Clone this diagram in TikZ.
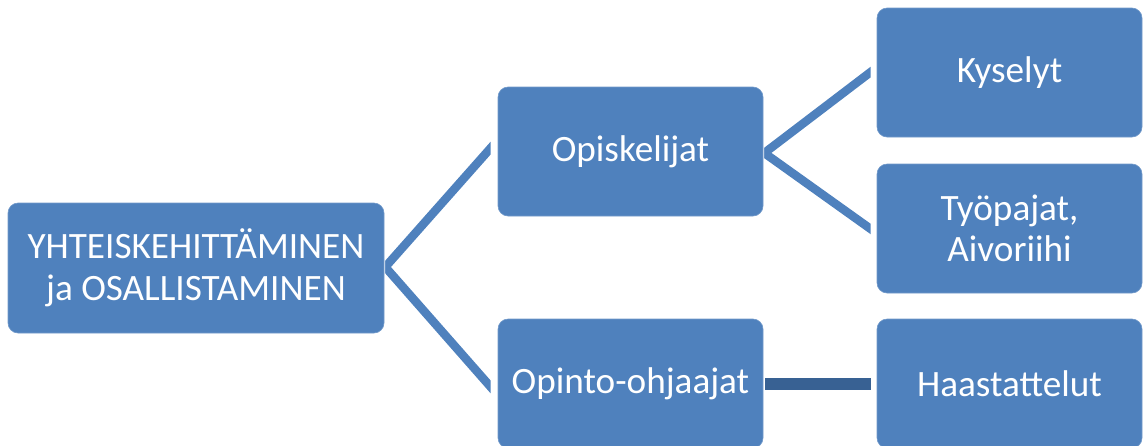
\documentclass[tikz,border=0pt]{standalone}
\usepackage{fontspec}
\setmainfont{Carlito}
\definecolor{boxblue}{HTML}{4F81BD}
\definecolor{bardark}{HTML}{386193}
\begin{document}
\begin{tikzpicture}[x=1pt,y=-1pt,
  box/.style={rectangle, rounded corners=10pt, fill=boxblue, draw=boxblue!80!white, line width=0.6pt,
    text=white, align=center, inner sep=0pt,
    minimum width=265pt, minimum height=129pt,
    font=\fontsize{37.2}{41.5}\selectfont},
  conn/.style={draw=boxblue, line width=8.5pt, line cap=butt},
  bar/.style={draw=bardark, line width=12pt, line cap=butt}]
\useasboundingbox (0,0) rectangle (1146,445);
\node[box, minimum width=376pt, minimum height=130pt] (root) at (196,268) {YHTEISKEHITTÄMINEN\\ja OSALLISTAMINEN};
\node[box] (opis) at (630.5,151.5) {Opiskelijat};
\node[box] (opin) at (630.5,383.5) {Opinto-ohjaajat};
\node[box] (kys) at (1009.5,72.5) {Kyselyt};
\node[box] (tyo) at (1009.5,228.5) {Työpajat,\\Aivoriihi};
\node[box] (haa) at (1009.5,383.5) {Haastattelut};
% connectors from root
\coordinate (j1) at ([xshift=1pt,yshift=1pt]root.east);
\coordinate (e1) at ([xshift=-7pt,yshift=3.5pt]opis.west);
\coordinate (e2) at ([xshift=-7pt,yshift=-3.5pt]opin.west);
\begin{scope}
  \clip (j1 |- 0,0) rectangle (e1 |- 0,445);
  \draw[conn, shorten <=-8pt, shorten >=-8pt] (j1) -- (e1);
  \draw[conn, shorten <=-8pt, shorten >=-8pt] (j1) -- (e2);
\end{scope}
% connectors from Opiskelijat
\coordinate (j2) at ([xshift=1pt,yshift=-1.5pt]opis.east);
\coordinate (e3) at ([xshift=-6pt,yshift=0.5pt]kys.west);
\coordinate (e4) at ([xshift=-6pt,yshift=-0.5pt]tyo.west);
\begin{scope}
  \clip (j2 |- 0,0) rectangle (e3 |- 0,445);
  \draw[conn, shorten <=-8pt, shorten >=-8pt] (j2) -- (e3);
  \draw[conn, shorten <=-8pt, shorten >=-8pt] (j2) -- (e4);
\end{scope}
% Opinto-ohjaajat to Haastattelut
\draw[bar, shorten <=2pt, shorten >=6pt] (opin.east) -- (haa.west);
\end{tikzpicture}
\end{document}
